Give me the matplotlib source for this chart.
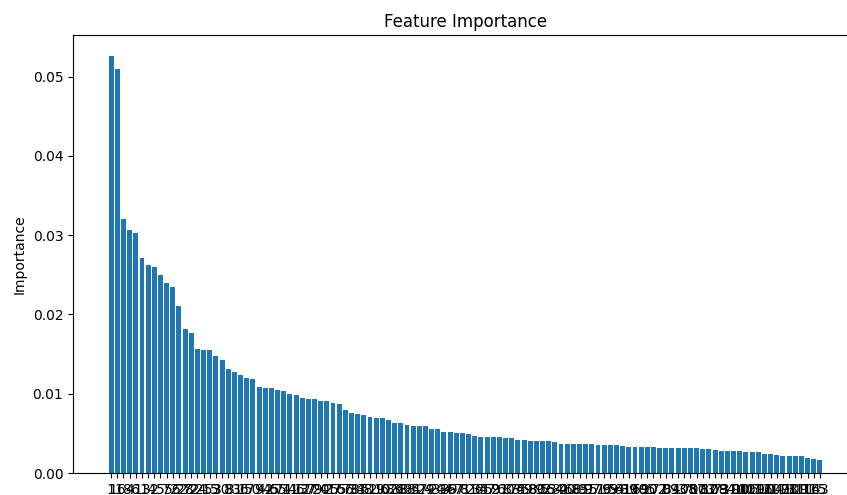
import matplotlib
matplotlib.use('Agg')
import matplotlib.pyplot as plt

# Importancia de cada feature (ordenada do maior para o menor)
importances = [
    0.0526, 0.0509, 0.0320, 0.0307, 0.0303, 0.0271, 0.0262, 0.0260, 0.0250, 0.0240,
    0.0235, 0.0211, 0.0182, 0.0176, 0.0156, 0.0155, 0.0155, 0.0147, 0.0142, 0.0131,
    0.0128, 0.0124, 0.0120, 0.0118, 0.0109, 0.0107, 0.0107, 0.0105, 0.0103, 0.0100,
    0.0099, 0.0094, 0.0093, 0.0093, 0.0091, 0.0091, 0.0088, 0.0087, 0.0079, 0.0076,
    0.0075, 0.0073, 0.0071, 0.0070, 0.0069, 0.0067, 0.0063, 0.0063, 0.0060, 0.0059,
    0.0059, 0.0059, 0.0055, 0.0055, 0.0052, 0.0052, 0.0051, 0.0050, 0.0049, 0.0047,
    0.0046, 0.0046, 0.0045, 0.0045, 0.0044, 0.0044, 0.0042, 0.0042, 0.0041, 0.0041,
    0.0040, 0.0040, 0.0039, 0.0037, 0.0037, 0.0037, 0.0037, 0.00365, 0.00365, 0.0035,
    0.0035, 0.0035, 0.0035, 0.0034, 0.0033, 0.0033, 0.0033, 0.0033, 0.0033, 0.0031,
    0.0031, 0.0031, 0.0031, 0.0031, 0.0031, 0.0031, 0.0030, 0.0030, 0.0029, 0.0028,
    0.0028, 0.0028, 0.0028, 0.0027, 0.0027, 0.0027, 0.0024, 0.0024, 0.0023, 0.0022,
    0.0022, 0.0021, 0.0021, 0.0019, 0.0018, 0.0016,
]

# Indice original de cada feature (rotulos do eixo x)
feature_idx = [
    1, 16, 18, 4, 6, 13, 14, 2, 5, 7, 56, 22, 28, 72, 24, 25, 15, 3, 30, 8,
    31, 36, 17, 50, 9, 42, 45, 65, 74, 11, 46, 12, 37, 79, 20, 41, 27, 55, 66, 78,
    33, 48, 52, 19, 10, 62, 86, 38, 88, 34, 57, 29, 43, 23, 44, 39, 67, 71, 81, 26,
    35, 47, 59, 21, 60, 83, 75, 49, 58, 80, 92, 53, 64, 32, 40, 68, 85, 91, 97, 51,
    76, 99, 54, 61, 89, 100, 69, 95, 102, 77, 0, 84, 93, 105, 70, 87, 103, 82, 108, 73,
    94, 110, 90, 106, 101, 112, 96, 104, 107, 113, 98, 109, 111, 114, 115, 63,
]
tick_labels = [str(i) for i in feature_idx]

fig = plt.figure(figsize=(8.47, 4.95), dpi=100)
ax = fig.add_axes([0.0862, 0.0444, 0.9268, 0.8848])

pos = range(len(importances))
ax.bar(pos, importances)
ax.set_xticks(list(pos))
ax.set_xticklabels(tick_labels)

ax.set_title('Feature Importance')
ax.set_ylabel('Importance')

plt.savefig('out.png', dpi=100)
